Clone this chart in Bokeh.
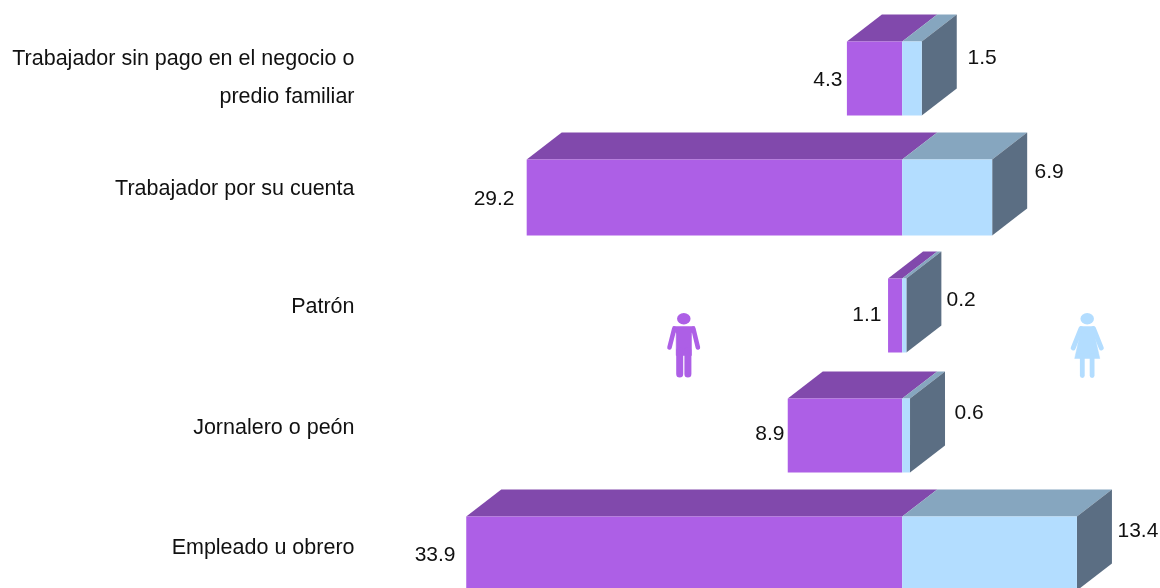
from bokeh.plotting import figure
from bokeh.models import Range1d
from bokeh.core.properties import value
from bokeh.embed import file_html
from bokeh.resources import INLINE

categories = ["Trabajador sin pago en el negocio o\npredio familiar", "Trabajador por su cuenta", "Patrón", "Jornalero o peón", "Empleado u obrero"]
hombres = [4.3, 29.2, 1.1, 8.9, 33.9]
mujeres = [1.5, 6.9, 0.2, 0.6, 13.4]

W, H = 1160, 588
ZERO = 901.7
SM, SF = 12.86, 13.04      # px per unit on each side
ROW0, ROWSTEP = 78, 118.75
DX, DY = 35, 27
nudge = [0, 0.25, -0.5, 0.75, 0]
half = [37, 38, 37, 37, 37]
MINF = 0.32  # thinnest drawn female bar

FRONT_M, TOP_M = "#AD5FE6", "#8149AC"
FRONT_F, TOP_F, SIDE = "#B3DDFF", "#86A6BF", "#5B6E83"
FONT = value("Liberation Sans")
TXT = "#111111"

p = figure(width=W, height=H, output_backend="svg", toolbar_location=None, tools="",
           x_axis_location=None, y_axis_location=None, min_border=0,
           x_range=Range1d(-ZERO / SM, (W - ZERO) / SM),
           y_range=Range1d((H - ROW0) / ROWSTEP, -ROW0 / ROWSTEP))
p.extra_x_ranges["f"] = Range1d(-ZERO / SF, (W - ZERO) / SF)
p.extra_x_ranges["px"] = Range1d(0, W)
p.extra_y_ranges["px"] = Range1d(H, 0)
p.grid.visible = False
p.outline_line_color = None
p.styles = {"position": "fixed", "left": "0", "top": "0"}

for i in reversed(range(5)):
    c = i + nudge[i] / ROWSTEP
    hh = half[i] / ROWSTEP
    y0, y1 = c - hh, c + hh
    dyu = DY / ROWSTEP
    m = hombres[i]
    f = max(mujeres[i], MINF)
    dm, df = DX / SM, DX / SF
    p.patch([-m, -m + dm, dm, 0], [y0, y0 - dyu, y0 - dyu, y0], fill_color=TOP_M, line_color=None)
    p.quad(left=[-m], right=[0], top=[y0], bottom=[y1], fill_color=FRONT_M, line_color=None)
    p.patch([0, df, f + df, f], [y0, y0 - dyu, y0 - dyu, y0], fill_color=TOP_F, line_color=None, x_range_name="f")
    p.patch([f, f + df, f + df, f], [y0, y0 - dyu, y1 - dyu, y1], fill_color=SIDE, line_color=None, x_range_name="f")
    p.quad(left=[0], right=[f], top=[y0], bottom=[y1], fill_color=FRONT_F, line_color=None, x_range_name="f")

cat_px = [76.5, 187.5, 305.5, 426.5, 546.5]
p.text(x=[354] * 5, y=cat_px, text=categories, x_range_name="px", y_range_name="px",
       text_font=FONT, text_font_size="21.5px", text_align="right", text_baseline="middle",
       text_color=TXT, text_line_height=1.58)

m_x = [842, 514, 881, 784, 455]
m_y = [78, 197, 313, 432, 553]
f_x = [967, 1034, 946, 954, 1117]
f_y = [56, 170, 298, 411, 529]
p.text(x=m_x, y=m_y, text=[f"{v:.1f}" for v in hombres], x_range_name="px", y_range_name="px",
       text_font=FONT, text_font_size="21px", text_align="right", text_baseline="middle", text_color=TXT)
p.text(x=f_x, y=f_y, text=[f"{v:.1f}" for v in mujeres], x_range_name="px", y_range_name="px",
       text_font=FONT, text_font_size="21px", text_align="left", text_baseline="middle", text_color=TXT)

def icon_kwargs(col):
    return dict(x_range_name="px", y_range_name="px", line_color=col, line_cap="round", line_join="round")

# man
C = FRONT_M
p.ellipse(x=[683.3], y=[318.3], width=[13.5], height=[11.5], fill_color=C, line_color=None, x_range_name="px", y_range_name="px")
p.patch([672.5, 694, 691, 691, 675.7, 675.7], [326, 326, 333, 355, 355, 333], fill_color=C, line_color=C, line_width=0.5, x_range_name="px", y_range_name="px")
p.multi_line([[673.8, 669], [692.8, 697.4]], [[328, 347], [328, 347]], line_width=4.6, **icon_kwargs(C))
p.multi_line([[679.2, 679.2], [687.4, 687.4]], [[350, 373.5], [350, 373.5]], line_width=7, **icon_kwargs(C))

# woman
C = FRONT_F
p.ellipse(x=[1086.7], y=[318.3], width=[13.5], height=[11.5], fill_color=C, line_color=None, x_range_name="px", y_range_name="px")
p.patch([1080, 1093.4, 1094.8, 1099.3, 1074.2, 1078.6], [326, 326, 338, 358, 358, 338], fill_color=C, line_color=C, line_width=0.5, x_range_name="px", y_range_name="px")
p.multi_line([[1080.5, 1072.7], [1093, 1100.8]], [[328, 347.5], [328, 347.5]], line_width=4.8, **icon_kwargs(C))
p.multi_line([[1081.8, 1081.8], [1091.6, 1091.6]], [[355, 375], [355, 375]], line_width=4.8, **icon_kwargs(C))

open("out.html", "w").write(file_html(p, INLINE))
